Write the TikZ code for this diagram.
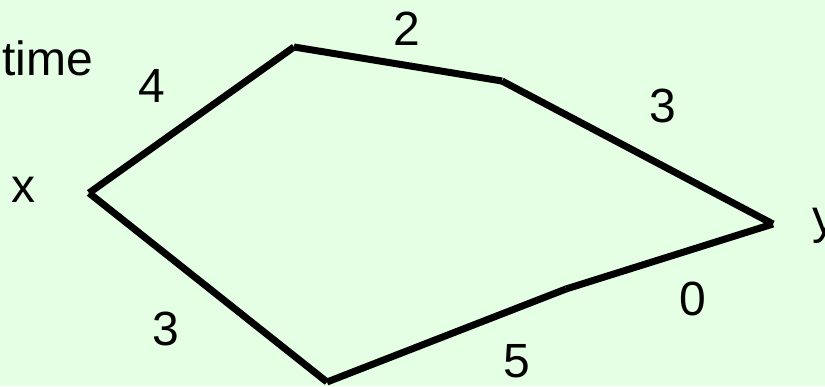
\documentclass[tikz,border=0pt]{standalone}
\usepackage{fontspec}
\setmainfont{Liberation Sans}
\definecolor{bg}{RGB}{228,255,228}
\tikzset{
  edge/.style={line width=7pt, line cap=butt, black},
  lbl/.style={inner sep=0pt, anchor=base, font=\fontsize{48}{56}\selectfont}
}
\begin{document}
\begin{tikzpicture}[x=1pt,y=-1pt]
  \fill[bg] (0,0) rectangle (825,386);
  \useasboundingbox (0,0) rectangle (825,386);
  \clip (0,0) rectangle (825,386);
  % vertices
  \coordinate (vx) at (89,193);
  \coordinate (vtl) at (294,47);
  \coordinate (vtm) at (502,81);
  \coordinate (vy) at (773,224);
  \coordinate (vbm) at (566,289);
  \coordinate (vb) at (327,382);
  % edges
  \draw[edge] (vx) -- (vtl);
  \draw[edge] (vtl) -- (vtm);
  \draw[edge] (vtm) -- (vy);
  \draw[edge] (vx) -- (vb);
  \draw[edge] (vb) -- (vbm);
  \draw[edge] (vbm) -- (vy);
  % labels
  \node[lbl, anchor=base west] (time) at (2,75) {time};
  \node[lbl] (lx) at (24,202) {x};
  \node[lbl, anchor=base west] (ly) at (812,233) {y};
  \node[lbl] (w4) at (152,102) {4};
  \node[lbl] (w2) at (407,45) {2};
  \node[lbl] (w3a) at (663,122) {3};
  \node[lbl] (w3b) at (166,345) {3};
  \node[lbl] (w0) at (693,315) {0};
  \node[lbl] (w5) at (517,377) {5};
\end{tikzpicture}
\end{document}
